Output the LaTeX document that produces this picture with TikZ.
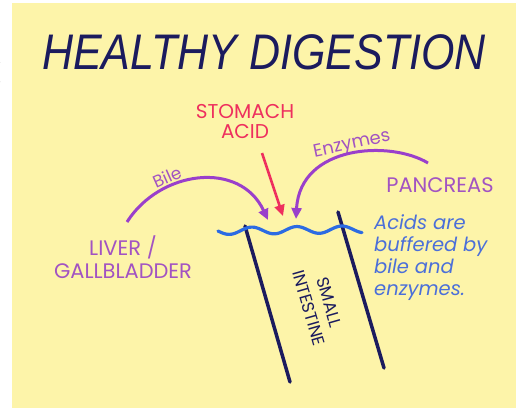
\documentclass[tikz,border=0pt]{standalone}
\usepackage{fontspec}
\setmainfont{Poppins}
\newfontfamily\titlefont{Liberation Sans}
\usetikzlibrary{arrows.meta}
\definecolor{paper}{HTML}{FDF4A9}
\definecolor{navy}{HTML}{1B1B5E}
\definecolor{acidred}{HTML}{EE2F5E}
\definecolor{purp}{HTML}{9A3FCB}
\definecolor{lpurp}{HTML}{A253C2}
\definecolor{wblue}{HTML}{2C6BE3}
\definecolor{tblue}{HTML}{4B6FD9}
\tikzset{
  lbl/.style={inner sep=0pt, align=center},
  organ/.style={lbl, text=lpurp, font=\fontsize{21}{23}\selectfont},
  flow/.style={line width=3pt, -{Triangle[length=11pt,width=10pt]}},
  wall/.style={line width=3.5pt, navy, line cap=round},
}
\begin{document}
\begin{tikzpicture}[x=1pt,y=-1pt]
\useasboundingbox (0,0) rectangle (516,408);
\fill[white] (0,0) rectangle (516,408);
\fill[paper] (12,3) rectangle (516,408);
\draw[gray!70!black, line width=1pt] (0,62) arc[start angle=90, end angle=-90, radius=-10];
% title
\node[lbl, text=navy] (title) at (264,52) {\titlefont\itshape\fontsize{50}{50}\selectfont\scalebox{0.86}[1]{HEALTHY DIGESTION}};
% labels
\node[lbl, text=acidred, font=\fontsize{20}{20}\selectfont] (acid) at (245,121) {STOMACH\\ACID};
\node[organ] (pancreas) at (440,185) {PANCREAS};
\node[organ] (liver) at (123,257) {LIVER /\\GALLBLADDER};
\node[lbl, text=lpurp, rotate=24, font=\fontsize{17}{17}\selectfont] (bilelbl) at (167,177) {Bile};
\node[lbl, text=lpurp, rotate=12, font=\fontsize{18}{18}\selectfont] (enzlbl) at (352,145) {Enzymes};
\node[lbl, text=tblue, align=left, anchor=north west, font=\fontsize{19.5}{22}\selectfont\itshape] (note) at (374,214) {Acids are\\buffered by\\bile and\\enzymes.};
\node[lbl, text=navy, rotate=-74, font=\fontsize{17}{21}\selectfont] (si) at (319,305) {SMALL\\INTESTINE};
% coordinates
\coordinate (bs) at (127,222);
\coordinate (bt) at (268,220);
\coordinate (es) at (428,163);
\coordinate (et) at (296,219);
\coordinate (as) at (262,153);
\coordinate (at) at (283,216);
\coordinate (l1) at (245,226);
\coordinate (l2) at (290,382);
\coordinate (r1) at (338,212);
\coordinate (r2) at (384,368);
% walls
\draw[wall] (l1) -- (l2);
\draw[wall] (r1) -- (r2);
% wavy surface
\draw[wblue, line width=3.2pt, line cap=round, domain=218:362, samples=120, smooth] plot (\x, {231-0.012*(\x-218)+3.5*sin(8*(\x-218))});
% arrows
\draw[flow, purp] (bs) .. controls (160,170) and (240,160) .. (bt);
\draw[flow, purp] (es) .. controls (390,140) and (300,145) .. (et);
\draw[line width=2.6pt, acidred, -{Triangle[length=11pt,width=10pt]}] (as) -- (at);
\end{tikzpicture}
\end{document}
